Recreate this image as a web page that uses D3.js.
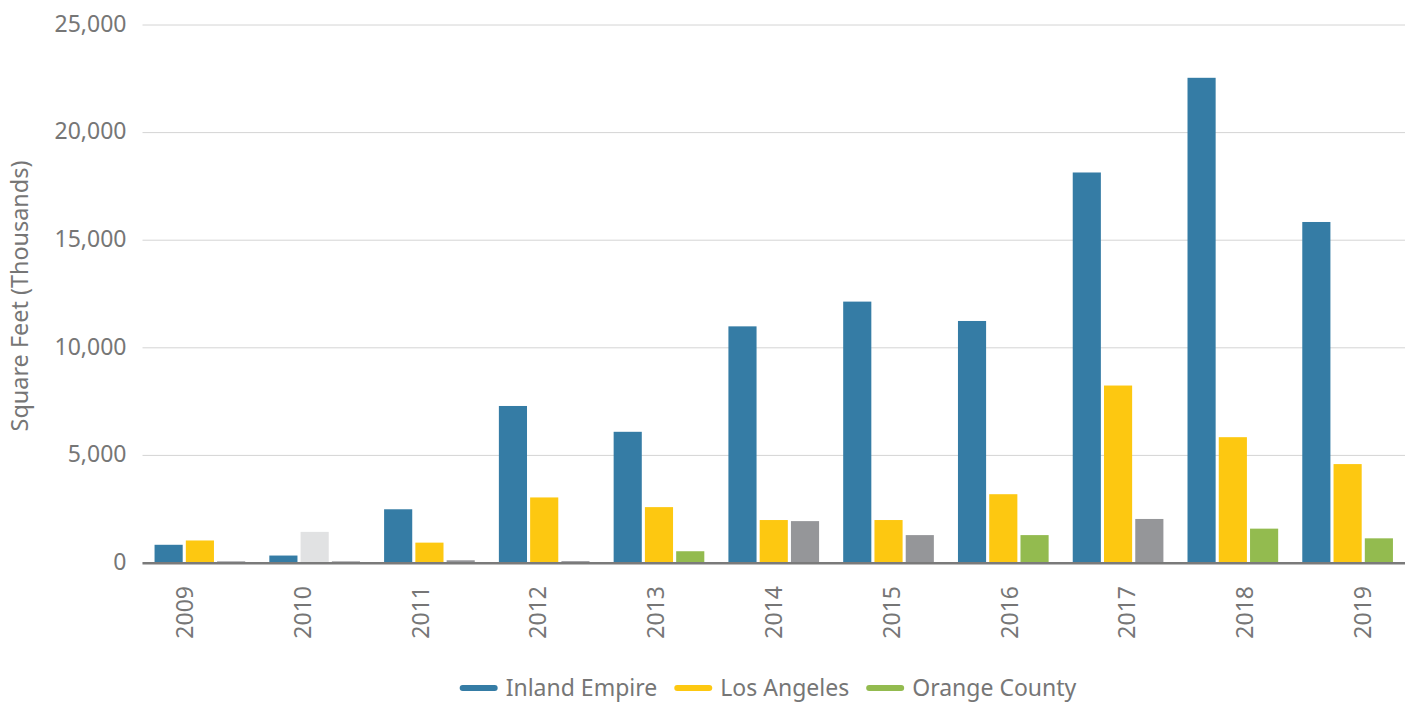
<!DOCTYPE html>
<html>
<head>
<meta charset="utf-8">
<script src="https://cdn.jsdelivr.net/npm/d3@7"></script>
<style>
    body { margin: 0; background: #fff; }
    svg text { font-family: "Noto Sans", "Open Sans", sans-serif; fill: #767676; }
</style>
</head>
<body>
<div id="chart"></div>
<script>
// Dati
const years = ['2009', '2010', '2011', '2012', '2013', '2014', '2015', '2016', '2017', '2018', '2019'];
const seriesNames = ['Inland Empire', 'Los Angeles', 'Orange County'];
const inlandEmpire = [800, 300, 2450, 7250, 6050, 10950, 12100, 11200, 18100, 22500, 15800];
const losAngeles = [1000, 1400, 900, 3000, 2550, 1950, 1950, 3150, 8200, 5800, 4550];
const orangeCounty = [30, 30, 80, 40, 500, 1900, 1250, 1250, 2000, 1550, 1100];
const yTicks = [0, 5000, 10000, 15000, 20000, 25000];
// anni con barre "grigie"
const laMuted = ['2010'];
const ocMuted = ['2009', '2010', '2011', '2012', '2014', '2015', '2017'];

const drawChart = function (selector) {
    const width = 1416;
    const height = 702;
    const colors = ['#357ca5', '#fdc811', '#93bb4f'];

    const rows = [];
    years.forEach((year, i) => {
        rows.push({ year: year, series: seriesNames[0], value: inlandEmpire[i], fill: colors[0] });
        rows.push({ year: year, series: seriesNames[1], value: losAngeles[i],
            fill: laMuted.includes(year) ? '#e1e2e3' : colors[1] });
        rows.push({ year: year, series: seriesNames[2], value: orangeCounty[i],
            fill: ocMuted.includes(year) ? '#959699' : colors[2] });
    });

    const chart = d3.select(selector)
        .append('svg')
        .attr('width', width)
        .attr('height', height);

    // Scales
    const x0 = d3.scaleBand()
        .domain(years)
        .range([142.5, 1405])
        .paddingInner(0.21)
        .paddingOuter(0.105);

    const x1 = d3.scaleBand()
        .domain(seriesNames)
        .range([0, x0.bandwidth()])
        .paddingInner(0.1);

    // le etichette in Excel sono un po' sfasate rispetto ai gruppi
    const xLabel = d3.scaleBand()
        .domain(years)
        .range([126, 1422]);

    const y = d3.scaleLinear()
        .domain([0, 25000])
        .range([562, 24]);

    // Gridlines + Y labels
    const yAxis = chart.append('g')
        .attr('class', 'y-axis')
        .attr('transform', 'translate(142.5,0)')
        .call(d3.axisLeft(y).tickValues(yTicks).tickSize(-(1405 - 142.5)).tickPadding(16)
            .tickFormat(d3.format(',')));

    yAxis.select('.domain').remove();
    yAxis.selectAll('.tick line')
        .attr('stroke', '#d4d4d4')
        .attr('stroke-width', 1)
        .attr('transform', 'translate(0,0.5)');
    yAxis.selectAll('.tick text')
        .attr('font-size', 23)
        .attr('fill', '#767676');

    // Bars
    chart.append('g')
        .selectAll('rect')
        .data(rows)
        .join('rect')
        .attr('x', d => x0(d.year) + x1(d.series))
        .attr('y', d => y(d.value))
        .attr('width', x1.bandwidth())
        .attr('height', d => y(0) - y(d.value))
        .attr('fill', d => d.fill);

    // Asse X
    chart.append('line')
        .attr('x1', 142.5)
        .attr('x2', 1405)
        .attr('y1', y(0) + 1.2)
        .attr('y2', y(0) + 1.2)
        .attr('stroke', '#7a7a7a')
        .attr('stroke-width', 2.4);

    const xAxis = chart.append('g')
        .attr('class', 'x-axis')
        .attr('transform', `translate(0,${y(0)})`)
        .call(d3.axisBottom(xLabel).tickSize(0).tickPadding(0));

    xAxis.select('.domain').remove();
    xAxis.selectAll('.tick text')
        .attr('font-size', 23)
        .attr('fill', '#767676')
        .attr('text-anchor', 'end')
        .attr('transform', 'translate(8,24) rotate(-90)')
        .attr('x', 0)
        .attr('y', 0)
        .attr('dy', '0');

    // Y label
    chart.append('text')
        .attr('transform', 'translate(28,296) rotate(-90)')
        .attr('text-anchor', 'middle')
        .attr('font-size', 23.4)
        .text('Square Feet (Thousands)');

    // Legend
    const legend = chart.append('g').attr('class', 'legend');
    let cx = 0;
    seriesNames.forEach((name, i) => {
        const item = legend.append('g').attr('transform', `translate(${cx},0)`);
        item.append('line')
            .attr('x1', 3).attr('x2', 35)
            .attr('y1', 0).attr('y2', 0)
            .attr('stroke', colors[i])
            .attr('stroke-width', 6)
            .attr('stroke-linecap', 'round');
        const t = item.append('text')
            .attr('x', 46)
            .attr('y', 0)
            .attr('dy', '0.35em')
            .attr('font-size', 23)
            .text(name);
        cx += 46 + t.node().getComputedTextLength() + 17;
    });
    const legendWidth = cx - 17;
    legend.attr('transform', `translate(${768 - legendWidth / 2},688)`);
};

drawChart('#chart');
</script>
</body>
</html>
